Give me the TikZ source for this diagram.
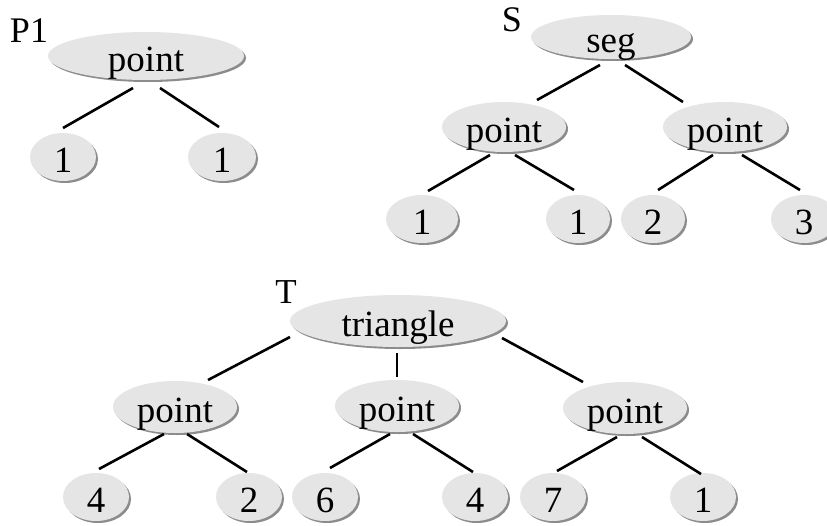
\documentclass[tikz,border=0pt]{standalone}
\usepackage{fontspec}
\setmainfont{Liberation Serif}
\usetikzlibrary{shapes.geometric,shadows,calc}
\tikzset{
  nd/.style={ellipse, inner sep=0pt, fill=black!10, draw=none,
    text height=30pt, text depth=0pt,
    drop shadow={shadow xshift=2pt, shadow yshift=-2pt, fill=black!45, opacity=1},
    font=\fontsize{37}{40}\selectfont},
  leaf/.style={nd, minimum width=66pt, minimum height=48pt},
  mid/.style={nd, minimum width=124pt, minimum height=50pt},
  lbl/.style={anchor=base, inner sep=0pt, font=\fontsize{36}{40}\selectfont},
  edge/.style={line width=2.6pt, black}
}
\begin{document}
\begin{tikzpicture}[x=1pt,y=-1pt]
\clip (0,0) rectangle (827,525);
\fill[white] (0,0) rectangle (827,525);
% P1
\node[lbl] (lp) at (29,42) {P1};
\node[nd, minimum width=196pt, minimum height=48pt] (p1) at (146,56) {point};
\node[leaf] (a1) at (63,157) {1};
\node[leaf, minimum width=68pt] (a2) at (222,157) {1};
\draw[edge] ($(p1)+(-13,32)$) -- ($(a1)+(0,-29)$);
\draw[edge] ($(p1)+(14,32)$) -- ($(a2)+(-3,-30)$);
% S
\node[lbl] (ls) at (512,31) {S};
\node[nd, minimum width=160pt, minimum height=44pt] (seg) at (611,37) {seg};
\node[mid] (sp1) at (504,127) {point};
\node[mid] (sp2) at (725,127) {point};
\node[leaf, minimum width=72pt] (b1) at (422,219) {1};
\node[leaf, minimum width=64pt] (b2) at (578,219) {1};
\node[leaf, minimum width=64pt] (b3) at (653,219) {2};
\node[leaf] (b4) at (804,219) {3};
\draw[edge] ($(seg)+(-11,28)$) -- ($(sp1)+(33,-27)$);
\draw[edge] ($(seg)+(14,28)$) -- ($(sp2)+(-42,-25)$);
\draw[edge] ($(sp1)+(-14,28)$) -- ($(b1)+(6,-28)$);
\draw[edge] ($(sp1)+(11,28)$) -- ($(b2)+(-4,-29)$);
\draw[edge] ($(sp2)+(-12,28)$) -- ($(b3)+(5,-29)$);
\draw[edge] ($(sp2)+(17,28)$) -- ($(b4)+(-4,-29)$);
% T
\node[lbl, font=\fontsize{35}{38}\selectfont] (lt) at (286,303) {T};
\node[nd, minimum width=216pt, minimum height=52pt] (tri) at (398,321) {triangle};
\node[mid, minimum height=52pt] (tp1) at (175,407) {point};
\node[mid, minimum height=52pt] (tp2) at (397,406) {point};
\node[mid, minimum height=52pt] (tp3) at (625,408) {point};
\node[leaf] (c1) at (96,497) {4};
\node[leaf] (c2) at (249,497) {2};
\node[leaf] (c3) at (325,497) {6};
\node[leaf] (c4) at (475,497) {4};
\node[leaf] (c5) at (553,497) {7};
\node[leaf] (c6) at (703,497) {1};
\draw[edge] ($(tri)+(-108,16)$) -- ($(tp1)+(33,-27)$);
\draw[edge] ($(tri)+(-1,32)$) -- ($(tp2)+(0,-29)$);
\draw[edge] ($(tri)+(104,17)$) -- ($(tp3)+(-42,-26)$);
\draw[edge] ($(tp1)+(-11,27)$) -- ($(c1)+(3,-28)$);
\draw[edge] ($(tp1)+(12,27)$) -- ($(c2)+(-2,-25)$);
\draw[edge] ($(tp2)+(-7,28)$) -- ($(c3)+(5,-29)$);
\draw[edge] ($(tp2)+(16,28)$) -- ($(c4)+(-2,-25)$);
\draw[edge] ($(tp3)+(-8,29)$) -- ($(c5)+(4,-26)$);
\draw[edge] ($(tp3)+(17,29)$) -- ($(c6)+(-2,-23)$);
\end{tikzpicture}
\end{document}
